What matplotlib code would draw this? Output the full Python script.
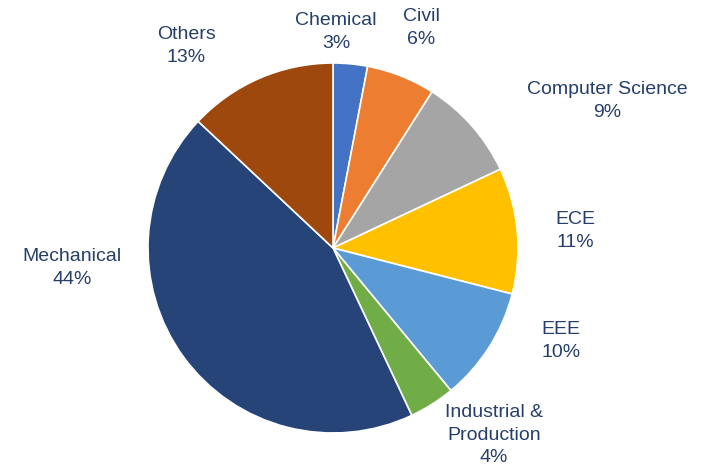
import matplotlib
matplotlib.use('Agg')
import matplotlib.pyplot as plt

# data
departments = ['Chemical', 'Civil', 'Computer Science', 'ECE', 'EEE',
               'Industrial &\nProduction', 'Mechanical', 'Others']
shares = [3, 6, 9, 11, 10, 4, 44, 13]
colors = ['#4472C4', '#ED7D31', '#A5A5A5', '#FFC000', '#5B9BD5',
          '#70AD47', '#264478', '#9E480E']

# label centres in pixel space (x from left, y from top)
label_pos = [(336, 32), (421, 28), (607, 101), (575, 231), (561, 341),
             (494, 435), (72, 268), (186, 46)]

W, H = 715, 474
center = (333, H - 248)
radius = 185

plt.rcParams['font.family'] = ['Liberation Sans', 'DejaVu Sans']
fig = plt.figure(figsize=(W / 100, H / 100), dpi=100)
ax = fig.add_axes([0, 0, 1, 1])
ax.set_xlim(0, W)
ax.set_ylim(0, H)
ax.set_aspect('equal')
ax.axis('off')

ax.pie(shares, colors=colors, startangle=90, counterclock=False,
       center=center, radius=radius,
       wedgeprops=dict(edgecolor='white', linewidth=1.2))
ax.set_xlim(0, W)
ax.set_ylim(0, H)

for name, val, (x, y) in zip(departments, shares, label_pos):
    ax.text(x, H - y, f'{name}\n{val}%', ha='center', va='center',
            fontsize=14, color='#263F6A', linespacing=1.45)

fig.savefig('out.png', dpi=100)
